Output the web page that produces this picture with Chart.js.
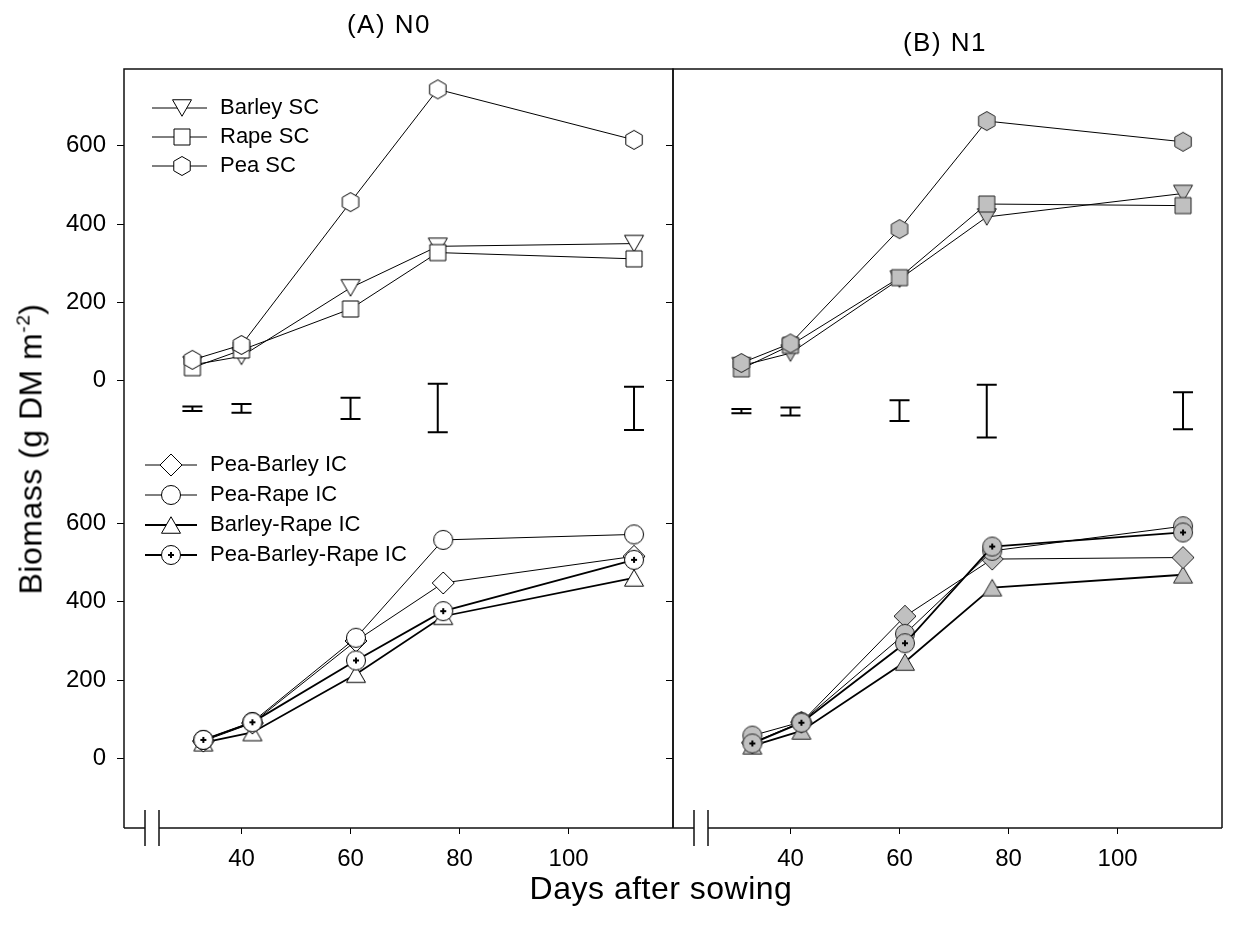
<!DOCTYPE html>
<html>
<head>
<meta charset="UTF-8">
<title>Biomass, sole crops and intercrops</title>
<script src="https://cdn.jsdelivr.net/npm/chart.js@4.4.1/dist/chart.umd.min.js"></script>
<style>
  body { margin: 0; background: #fff; width: 1234px; height: 942px; position: relative; overflow: hidden;
         font-family: "Liberation Sans", Arial, sans-serif; }
  canvas { position: absolute; top: 0; }
  #chartA { left: 0; }
  #chartB { left: 560px; }
  .lbl { position: absolute; white-space: nowrap; color: #000; transform: translate(-50%, -50%); }
  .ttl { font-size: 26px; letter-spacing: 1.5px; }
  .axt { font-size: 32px; letter-spacing: 0.5px; }
  sup { font-size: 0.6em; }
</style>
</head>
<body>
<canvas id="chartA" width="690" height="942"></canvas>
<canvas id="chartB" width="674" height="942"></canvas>
<div class="lbl ttl" style="left:389px; top:24px">(A) N0</div>
<div class="lbl ttl" style="left:945px; top:42px">(B) N1</div>
<div class="lbl axt" style="left:661px; top:888px">Days after sowing</div>
<div class="lbl axt" style="left:31px; top:449px; transform: translate(-50%,-50%) rotate(-90deg)">Biomass (g DM m<sup>-2</sup>)</div>

<script>
// sampling dates (sole crops are plotted a little earlier than the intercrops)
var daysSC = [31, 40, 60, 76, 112];
var daysIC = [33, 42, 61, 77, 112];
var xTicks = [40, 60, 80, 100];
var yTicks = [0, 200, 400, 600];

var scNames = ["Barley SC", "Rape SC", "Pea SC"];
var icNames = ["Pea-Barley IC", "Pea-Rape IC", "Barley-Rape IC", "Pea-Barley-Rape IC"];

// N0
var barleySC_N0 = [40, 62, 237, 343, 350];
var rapeSC_N0   = [33, 78, 183, 327, 311];
var peaSC_N0    = [53, 91, 456, 744, 615];
var peaBarleyIC_N0  = [44, 90, 300, 448, 516];
var peaRapeIC_N0    = [47, 93, 308, 558, 572];
var barleyRapeIC_N0 = [40, 66, 215, 363, 461];
var pbrIC_N0        = [47, 92, 250, 376, 507];
var lsdMid_N0  = [-72, -71, -71, -70, -71];
var lsdHalf_N0 = [6, 11, 27, 62, 55];

// N1
var barleySC_N1 = [38, 70, 259, 418, 478];
var rapeSC_N1   = [30, 90, 263, 451, 447];
var peaSC_N1    = [45, 95, 387, 663, 610];
var peaBarleyIC_N1  = [40, 92, 363, 509, 513];
var peaRapeIC_N1    = [58, 93, 318, 530, 593];
var barleyRapeIC_N1 = [32, 70, 246, 436, 469];
var pbrIC_N1        = [38, 91, 294, 541, 577];
var lsdMid_N1  = [-78, -79, -77, -78, -77];
var lsdHalf_N1 = [5.5, 10.5, 26.5, 67.5, 47.5];

// the sole crop block sits on top of the intercrop block on one linear axis
var OFFSET = 965;
var Y_MIN = -178, Y_MAX = 1761;
var X_MIN = 18.45, X_MAX = 119.15;

Chart.defaults.font.family = '"Liberation Sans", Arial, sans-serif';
var tickFont = { size: 24 };

// symbols drawn once into small canvases and used as point styles
function makeMarker(shape, fill, stroke) {
  var s = 26, c = 13;
  var cv = document.createElement("canvas");
  cv.width = cv.height = s;
  var ctx = cv.getContext("2d");
  ctx.fillStyle = fill;
  ctx.strokeStyle = stroke;
  ctx.lineWidth = 1;
  ctx.beginPath();
  if (shape == "hex") {
    for (var k = 0; k < 6; k++) {
      var a = (-90 + 60 * k) * Math.PI / 180;
      ctx.lineTo(c + 9.5 * Math.cos(a), c + 9.5 * Math.sin(a));
    }
  } else if (shape == "triDown") {
    ctx.moveTo(c - 9.5, c - 8.25); ctx.lineTo(c + 9.5, c - 8.25); ctx.lineTo(c, c + 8.25);
  } else if (shape == "triUp") {
    ctx.moveTo(c, c - 8.25); ctx.lineTo(c + 9.5, c + 8.25); ctx.lineTo(c - 9.5, c + 8.25);
  } else if (shape == "square") {
    ctx.rect(c - 8, c - 8, 16, 16);
  } else if (shape == "diamond") {
    ctx.moveTo(c, c - 11); ctx.lineTo(c + 11, c); ctx.lineTo(c, c + 11); ctx.lineTo(c - 11, c);
  } else {
    ctx.arc(c, c, 9.5, 0, Math.PI * 2);
  }
  ctx.closePath();
  ctx.fill();
  ctx.stroke();
  if (shape == "circlePlus") {
    ctx.strokeStyle = "#000";
    ctx.lineWidth = 2;
    ctx.beginPath();
    ctx.moveTo(c - 3, c); ctx.lineTo(c + 3, c);
    ctx.moveTo(c, c - 3); ctx.lineTo(c, c + 3);
    ctx.stroke();
  }
  return cv;
}

function series(label, days, vals, lift, marker, width, order) {
  return {
    label: label,
    data: days.map(function(d, i) { return { x: d, y: vals[i] + lift }; }),
    borderColor: "#000",
    borderWidth: width,
    pointStyle: marker,
    pointRadius: 10,
    pointHoverRadius: 10,
    fill: false,
    tension: 0,
    order: order
  };
}

function panelDatasets(sc, ic, fill, stroke) {
  return [
    series(scNames[0], daysSC, sc[0], OFFSET, makeMarker("triDown", fill, stroke), 1, 3),
    series(scNames[1], daysSC, sc[1], OFFSET, makeMarker("square", fill, stroke), 1, 2),
    series(scNames[2], daysSC, sc[2], OFFSET, makeMarker("hex", fill, stroke), 1, 1),
    series(icNames[0], daysIC, ic[0], 0, makeMarker("diamond", fill, stroke), 1, 6),
    series(icNames[1], daysIC, ic[1], 0, makeMarker("circle", fill, stroke), 1, 5),
    series(icNames[2], daysIC, ic[2], 0, makeMarker("triUp", fill, stroke), 1.8, 7),
    series(icNames[3], daysIC, ic[3], 0, makeMarker("circlePlus", fill, stroke), 1.8, 4)
  ];
}

// box round the plot, with the broken x axis
var framePlugin = {
  id: "frame",
  afterDraw: function(chart) {
    var a = chart.chartArea, ctx = chart.ctx;
    var b1 = a.left + 21, b2 = a.left + 35;
    ctx.save();
    ctx.strokeStyle = "#111";
    ctx.lineWidth = 1.5;
    ctx.beginPath();
    ctx.moveTo(a.left, a.bottom); ctx.lineTo(a.left, a.top);
    ctx.lineTo(a.right, a.top); ctx.lineTo(a.right, a.bottom);
    ctx.moveTo(a.left, a.bottom); ctx.lineTo(b1, a.bottom);
    ctx.moveTo(b2, a.bottom); ctx.lineTo(a.right, a.bottom);
    ctx.moveTo(b1, a.bottom - 18); ctx.lineTo(b1, a.bottom + 18);
    ctx.moveTo(b2, a.bottom - 18); ctx.lineTo(b2, a.bottom + 18);
    ctx.stroke();
    ctx.restore();
  }
};

// LSD bars under the sole crop curves
var lsdPlugin = {
  id: "lsd",
  afterDatasetsDraw: function(chart, args, o) {
    var xs = chart.scales.x, ys = chart.scales.y, ctx = chart.ctx;
    ctx.save();
    ctx.strokeStyle = "#000";
    ctx.lineWidth = 2;
    o.days.forEach(function(d, i) {
      var px = xs.getPixelForValue(d);
      var top = ys.getPixelForValue(o.mid[i] + o.half[i] + OFFSET);
      var bot = ys.getPixelForValue(o.mid[i] - o.half[i] + OFFSET);
      ctx.beginPath();
      ctx.moveTo(px, top); ctx.lineTo(px, bot);
      ctx.moveTo(px - 10, top); ctx.lineTo(px + 10, top);
      ctx.moveTo(px - 10, bot); ctx.lineTo(px + 10, bot);
      ctx.stroke();
    });
    ctx.restore();
  }
};

// line + symbol legends inside panel A
var legendPlugin = {
  id: "innerLegend",
  afterDatasetsDraw: function(chart, args, o) {
    if (!o.groups) return;
    var ctx = chart.ctx, a = chart.chartArea;
    var sets = chart.data.datasets;
    ctx.save();
    ctx.font = '22px "Liberation Sans", Arial, sans-serif';
    ctx.textBaseline = "middle";
    o.groups.forEach(function(g) {
      g.items.forEach(function(idx, i) {
        var ds = sets[idx], y = g.y + i * g.step;
        ctx.strokeStyle = "#000";
        ctx.lineWidth = ds.borderWidth;
        ctx.beginPath();
        ctx.moveTo(a.left + g.x1, y); ctx.lineTo(a.left + g.x2, y);
        ctx.stroke();
        var m = ds.pointStyle;
        ctx.drawImage(m, a.left + g.xm - m.width / 2, y - m.height / 2);
        ctx.fillStyle = "#000";
        ctx.fillText(ds.label, a.left + g.xt, y);
      });
    });
    ctx.restore();
  }
};

function makePanel(id, yWidth, rightPad, showYLabels, sets, lsd, legend) {
  return new Chart(document.getElementById(id), {
    type: "line",
    data: { datasets: sets },
    options: {
      responsive: false,
      animation: false,
      layout: { padding: { top: 69, right: rightPad, left: 0, bottom: 0 } },
      plugins: {
        legend: { display: false },
        tooltip: { enabled: false },
        lsd: lsd,
        innerLegend: legend
      },
      scales: {
        x: {
          type: "linear", min: X_MIN, max: X_MAX,
          afterBuildTicks: function(s) { s.ticks = xTicks.map(function(v) { return { value: v }; }); },
          afterFit: function(s) { s.height = 114; },
          ticks: { font: tickFont, color: "#000", padding: 11, maxRotation: 0, autoSkip: false },
          grid: { drawOnChartArea: false, tickLength: 6, color: "#000", lineWidth: 1 },
          border: { display: false }
        },
        y: {
          type: "linear", min: Y_MIN, max: Y_MAX,
          afterBuildTicks: function(s) {
            var t = yTicks.map(function(v) { return { value: v }; });
            s.ticks = t.concat(yTicks.map(function(v) { return { value: v + OFFSET }; }));
          },
          afterFit: function(s) { s.width = yWidth; },
          ticks: {
            display: showYLabels,
            font: tickFont, color: "#000", padding: 11, autoSkip: false,
            callback: function(v, i) { return yTicks[i % yTicks.length]; }
          },
          grid: { drawOnChartArea: false, tickLength: 7, color: "#000", lineWidth: 1 },
          border: { display: false }
        }
      }
    },
    plugins: [lsdPlugin, framePlugin, legendPlugin]
  });
}

makePanel("chartA", 124, 17, true,
  panelDatasets([barleySC_N0, rapeSC_N0, peaSC_N0],
                [peaBarleyIC_N0, peaRapeIC_N0, barleyRapeIC_N0, pbrIC_N0], "#fff", "#000"),
  { days: daysSC, mid: lsdMid_N0, half: lsdHalf_N0 },
  { groups: [
      { items: [0, 1, 2], y: 108, step: 29, x1: 28, x2: 83, xm: 58, xt: 96 },
      { items: [3, 4, 5, 6], y: 465, step: 30, x1: 21, x2: 73, xm: 47, xt: 86 }
  ] });

makePanel("chartB", 113, 12, false,
  panelDatasets([barleySC_N1, rapeSC_N1, peaSC_N1],
                [peaBarleyIC_N1, peaRapeIC_N1, barleyRapeIC_N1, pbrIC_N1], "#c0c0c0", "#222"),
  { days: daysSC, mid: lsdMid_N1, half: lsdHalf_N1 },
  {});
</script>
</body>
</html>
